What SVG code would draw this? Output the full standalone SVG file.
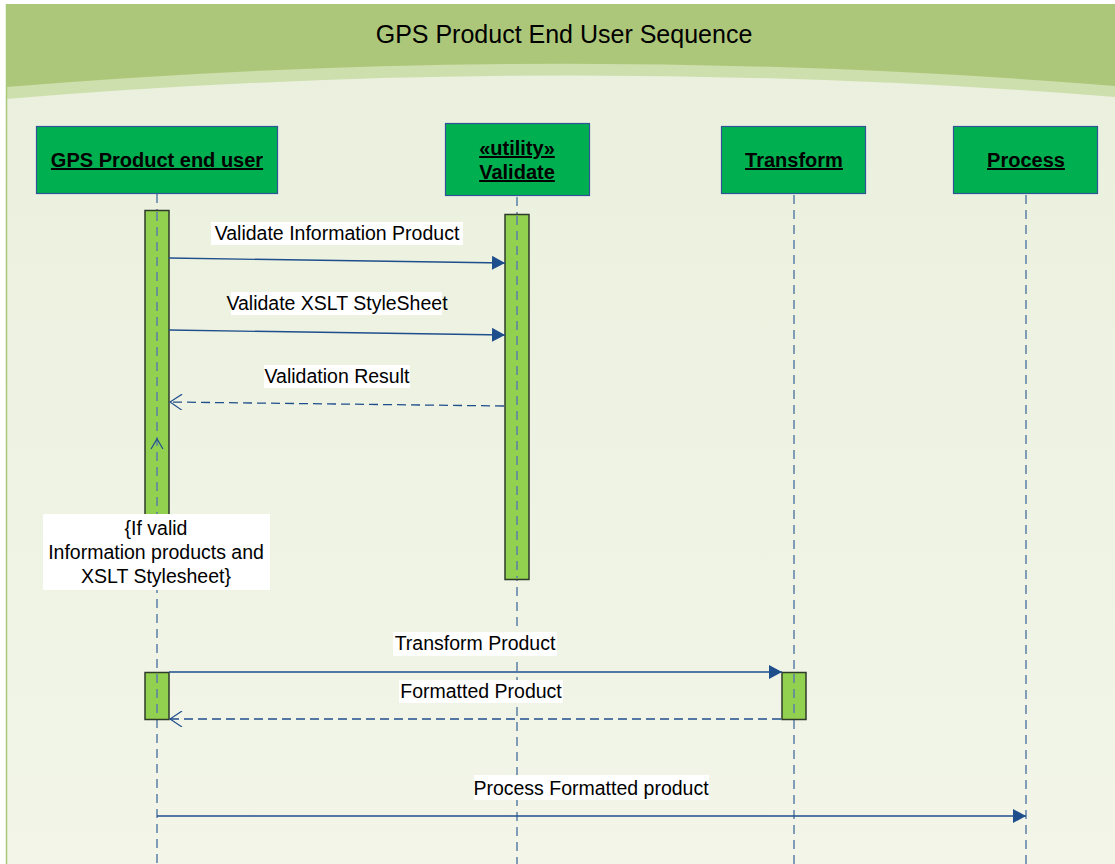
<svg xmlns="http://www.w3.org/2000/svg" width="1115" height="864" viewBox="0 0 1115 864">
<defs>
<linearGradient id="bg" x1="0" y1="0" x2="0" y2="1">
<stop offset="0" stop-color="#EAF0DD"/>
<stop offset="1" stop-color="#F2F5E8"/>
</linearGradient>
<marker id="fill" markerWidth="14" markerHeight="14" refX="13" refY="7" orient="auto" markerUnits="userSpaceOnUse">
<path d="M0,0 L13,7 L0,14 Z" fill="#1F4E8C"/>
</marker>
<marker id="open" markerWidth="14" markerHeight="16" refX="13" refY="8" orient="auto" markerUnits="userSpaceOnUse">
<path d="M1,0 L13,8 L1,16" fill="none" stroke="#1F4E8C" stroke-width="1.2"/>
</marker>
</defs>
<style>
.node rect{fill:#00B050;stroke:#2F5597;stroke-width:1.2}
.node text{font-family:"Liberation Sans",Arial,sans-serif;font-weight:bold;font-size:20px;fill:#000;text-anchor:middle;text-decoration:underline}
.life{stroke:#5B7FA8;stroke-width:1.5;stroke-dasharray:9,6;fill:none}
.act{fill:#92D050;stroke:#2E3B2A;stroke-width:1.5}
.msg{stroke:#1F4E8C;stroke-width:1.3;fill:none}
.ret{stroke:#1F4E8C;stroke-width:1.3;fill:none;stroke-dasharray:9,5}
.lbg{fill:#FFFFFF}
.lbl{font-family:"Liberation Sans",Arial,sans-serif;font-size:19.5px;fill:#000;text-anchor:middle}
</style>
<rect x="0" y="0" width="1115" height="864" fill="#FFFFFF"/>
<rect x="6" y="4" width="1109" height="860" fill="url(#bg)"/>
<path d="M6,4 H1115 V97 Q560,53 6,99 Z" fill="#CEDFAE"/>
<path d="M6,4 H1115 V86 Q560,41 6,87 Z" fill="#ADC77A"/>
<line x1="6.5" y1="4" x2="6.5" y2="864" stroke="#A9C97A" stroke-width="1.5"/>
<text x="564" y="43" font-family="Liberation Sans, Arial, sans-serif" font-size="25" fill="#000" text-anchor="middle">GPS Product End User Sequence</text>

<g id="lifelines">
<line class="life" x1="157" y1="194" x2="157" y2="864"/>
<line class="life" x1="517" y1="197" x2="517" y2="864"/>
<line class="life" x1="794" y1="195" x2="794" y2="864"/>
<line class="life" x1="1026" y1="195" x2="1026" y2="864"/>
</g>

<g id="node-user" class="node">
<rect x="36.5" y="126.5" width="241" height="67"/>
<text x="157" y="167">GPS Product end user</text>
</g>
<g id="node-validate" class="node">
<rect x="445.5" y="123.5" width="144" height="72"/>
<text x="517" y="155">«utility»</text>
<text x="517" y="179">Validate</text>
</g>
<g id="node-transform" class="node">
<rect x="721.5" y="126.5" width="144" height="67"/>
<text x="794" y="167">Transform</text>
</g>
<g id="node-process" class="node">
<rect x="953.5" y="126.5" width="144" height="67"/>
<text x="1026" y="167">Process</text>
</g>

<g id="activations">
<rect class="act" x="145" y="210.5" width="24" height="310"/>
<line class="life" x1="157" y1="212" x2="157" y2="520"/>
<rect class="act" x="505" y="214.5" width="24" height="365"/>
<line class="life" x1="517" y1="216" x2="517" y2="578"/>
<rect class="act" x="145" y="672.5" width="24" height="47"/>
<line class="life" x1="157" y1="674" x2="157" y2="718"/>
<rect class="act" x="782" y="672.5" width="24" height="47"/>
<line class="life" x1="794" y1="674" x2="794" y2="718"/>
</g>

<g id="connectors">
<line class="msg" x1="169" y1="258" x2="505" y2="263" marker-end="url(#fill)"/>
<line class="msg" x1="169" y1="330" x2="505" y2="335" marker-end="url(#fill)"/>
<line class="ret" x1="504" y1="406" x2="170" y2="402" marker-end="url(#open)"/>
<path d="M151,449 L157,439 L163,449" fill="none" stroke="#1F4E8C" stroke-width="1.2"/>
<line class="msg" x1="169" y1="672" x2="782" y2="672" marker-end="url(#fill)"/>
<line class="ret" x1="781" y1="719" x2="170" y2="719" marker-end="url(#open)"/>
<line class="msg" x1="157" y1="816" x2="1026" y2="816" marker-end="url(#fill)"/>
</g>

<g id="labels">
<rect class="lbg" x="211" y="222" width="252" height="23"/>
<text class="lbl" x="337" y="240">Validate Information Product</text>
<rect class="lbg" x="231" y="292" width="211" height="23"/>
<text class="lbl" x="337" y="310">Validate XSLT StyleSheet</text>
<rect class="lbg" x="264" y="365" width="146" height="23"/>
<text class="lbl" x="337" y="383">Validation Result</text>
<rect class="lbg" x="393" y="632" width="164" height="24"/>
<text class="lbl" x="475" y="650">Transform Product</text>
<rect class="lbg" x="399" y="680" width="164" height="23"/>
<text class="lbl" x="481" y="698">Formatted Product</text>
<rect class="lbg" x="474" y="775" width="235" height="25"/>
<text class="lbl" x="591" y="795">Process Formatted product</text>
</g>

<g id="guard">
<rect class="lbg" x="43" y="514" width="227" height="76"/>
<text class="lbl" x="156" y="535">{If valid</text>
<text class="lbl" x="156" y="559">Information products and</text>
<text class="lbl" x="156" y="583">XSLT Stylesheet}</text>
</g>
</svg>
